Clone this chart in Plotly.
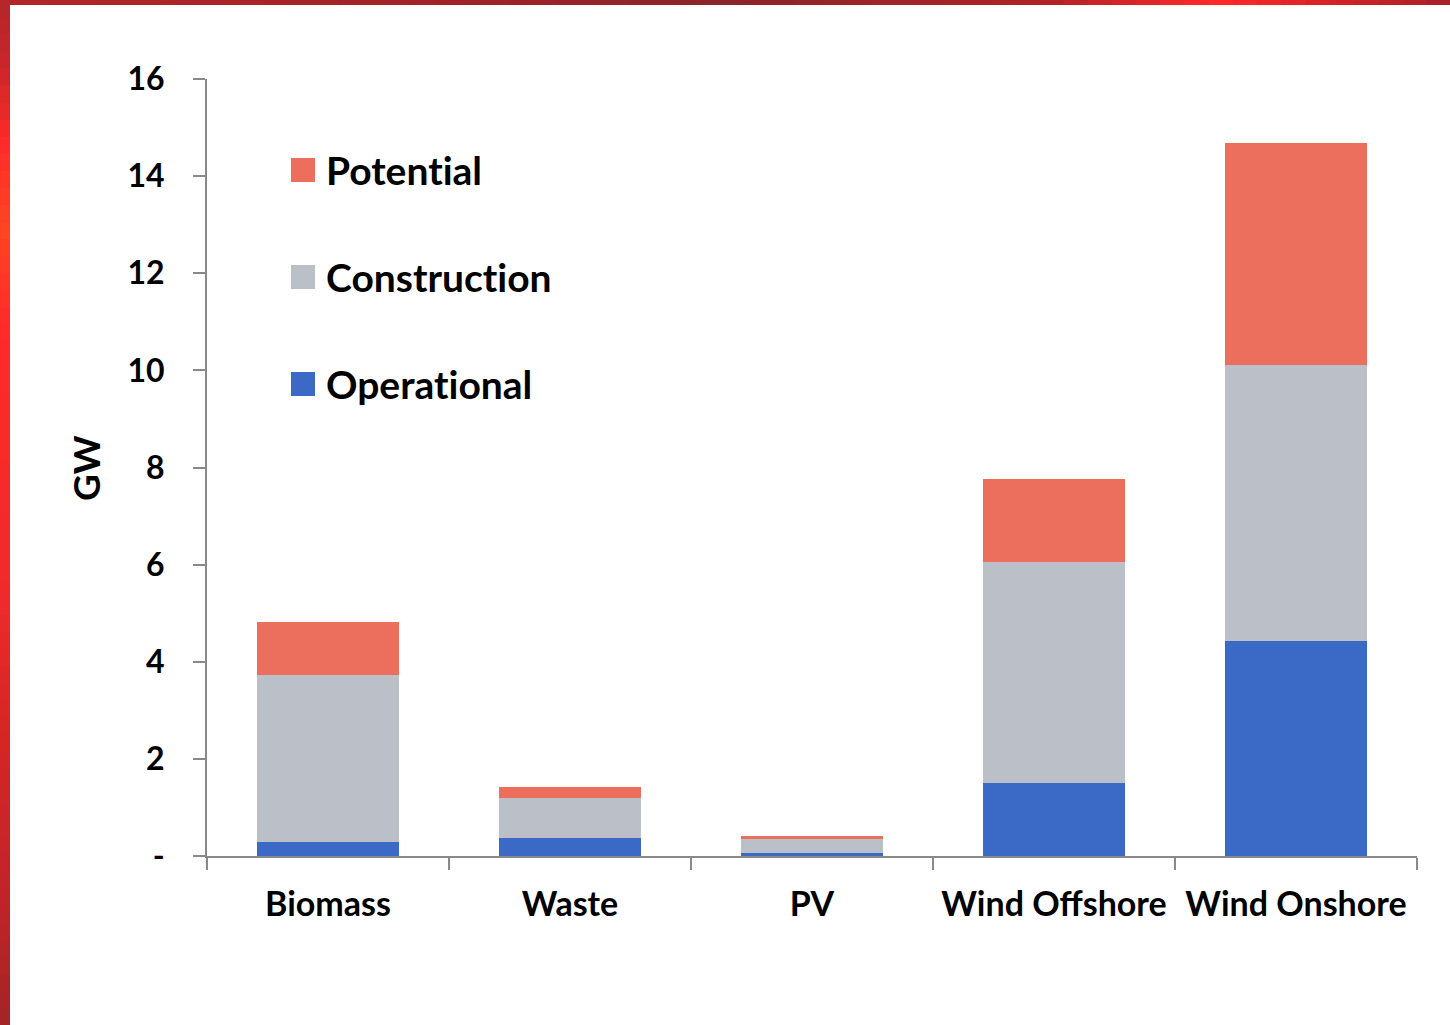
import plotly.graph_objects as go

# Installed capacity by technology (GW), stacked by project stage
categories = ["Biomass", "Waste", "PV", "Wind Offshore", "Wind Onshore"]
operational = [0.29, 0.37, 0.06, 1.50, 4.43]
construction = [3.44, 0.82, 0.29, 4.55, 5.68]
potential = [1.09, 0.23, 0.06, 1.71, 4.57]

y_ticks = [0, 2, 4, 6, 8, 10, 12, 14, 16]
y_ticktext = ["-", "2", "4", "6", "8", "10", "12", "14", "16"]

series = [
    ("Operational", operational, "#3A6AC6"),
    ("Construction", construction, "#BBBFC7"),
    ("Potential", potential, "#EB6F5C"),
]

W, H = 1450, 1025
L, R, T, B = 207, 33, 79, 169
PW, PH = W - L - R, H - T - B

FONT = "Lato"
AXIS_GREY = "#898989"
ZWNJ = "\u200c"  # keeps "t" and "i" as separate glyphs (no ligature)


def px_x(px):
    return (px - L) / PW


def px_y(py):
    return (H - B - py) / PH


fig = go.Figure()
for name, vals, color in series:
    fig.add_trace(go.Bar(
        x=categories, y=vals, name=name,
        marker=dict(color=color, line=dict(width=0)),
        showlegend=False,
    ))

shapes = []
annotations = []

# Legend drawn as coloured squares with labels, top item first
legend_rows = [("Potential", "#EB6F5C", 170), ("Construction", "#BBBFC7", 277),
               ("Operational", "#3A6AC6", 384)]
for label, color, cy in legend_rows:
    shapes.append(dict(type="rect", xref="paper", yref="paper",
                       x0=px_x(291), x1=px_x(315), y0=px_y(cy + 12), y1=px_y(cy - 12),
                       fillcolor=color, line=dict(width=0)))
    annotations.append(dict(text="<b>" + label.replace("ti", "t" + ZWNJ + "i") + "</b>",
                            xref="paper", yref="paper",
                            x=px_x(324), y=px_y(cy), xanchor="left", yanchor="middle",
                            showarrow=False, font=dict(family=FONT, size=39, color="black")))

annotations.append(dict(text="<b>GW</b>", xref="paper", yref="paper",
                        x=px_x(86), y=px_y(468), xanchor="center", yanchor="middle",
                        textangle=-90, showarrow=False,
                        font=dict(family=FONT, size=37, color="black")))


def lerp_color(stops, t):
    for (t0, c0), (t1, c1) in zip(stops, stops[1:]):
        if t0 <= t <= t1:
            f = 0 if t1 == t0 else (t - t0) / (t1 - t0)
            a = [int(c0[i:i + 2], 16) for i in (1, 3, 5)]
            b = [int(c1[i:i + 2], 16) for i in (1, 3, 5)]
            return "rgb({},{},{})".format(*[round(a[k] + (b[k] - a[k]) * f) for k in range(3)])
    return stops[-1][1]


# Red gradient frame along the top and left edges
top_stops = [(0, "#B3262A"), (0.3, "#A12227"), (0.5, "#8B2529"), (0.72, "#B02227"),
             (0.84, "#FF2A2A"), (0.92, "#D42226"), (1.0, "#A52228")]
left_stops = [(0, "#B3262A"), (0.06, "#C8262A"), (0.14, "#FF2A2A"), (0.22, "#FF4522"),
              (0.32, "#FF2A2A"), (0.58, "#F02A2A"), (0.7, "#D82626"), (0.88, "#C02428"),
              (1.0, "#A22428")]
N = 60
for i in range(N):
    xa, xb = W * i / N, W * (i + 1) / N + 1
    shapes.append(dict(type="rect", xref="paper", yref="paper", layer="above",
                       x0=px_x(xa), x1=px_x(xb), y0=px_y(5), y1=px_y(0),
                       fillcolor=lerp_color(top_stops, (i + 0.5) / N), line=dict(width=0)))
for i in range(N):
    ya, yb = H * i / N, H * (i + 1) / N + 1
    shapes.append(dict(type="rect", xref="paper", yref="paper", layer="above",
                       x0=px_x(0), x1=px_x(10), y0=px_y(yb), y1=px_y(ya),
                       fillcolor=lerp_color(left_stops, (i + 0.5) / N), line=dict(width=0)))

fig.update_layout(
    barmode="stack",
    bargap=0.413,
    width=W, height=H,
    margin=dict(l=L, r=R, t=T, b=B, pad=0),
    paper_bgcolor="white", plot_bgcolor="white",
    font=dict(family=FONT, color="black"),
    shapes=shapes,
    annotations=annotations,
    xaxis=dict(
        type="category",
        showline=True, linecolor=AXIS_GREY, linewidth=2,
        ticks="outside", tickson="boundaries", ticklen=12, tickwidth=2, tickcolor=AXIS_GREY,
        tickfont=dict(family=FONT, size=34, color="black", weight="bold"),
        ticklabelstandoff=17,
        showgrid=False, zeroline=False,
    ),
    yaxis=dict(
        range=[0, 16],
        tickvals=y_ticks, ticktext=y_ticktext,
        showline=True, linecolor=AXIS_GREY, linewidth=2,
        ticks="outside", ticklen=12, tickwidth=2, tickcolor=AXIS_GREY,
        tickfont=dict(family=FONT, size=32, color="black", weight="bold"),
        ticklabelstandoff=22,
        showgrid=False, zeroline=False,
    ),
)

fig.write_html("out.html")
